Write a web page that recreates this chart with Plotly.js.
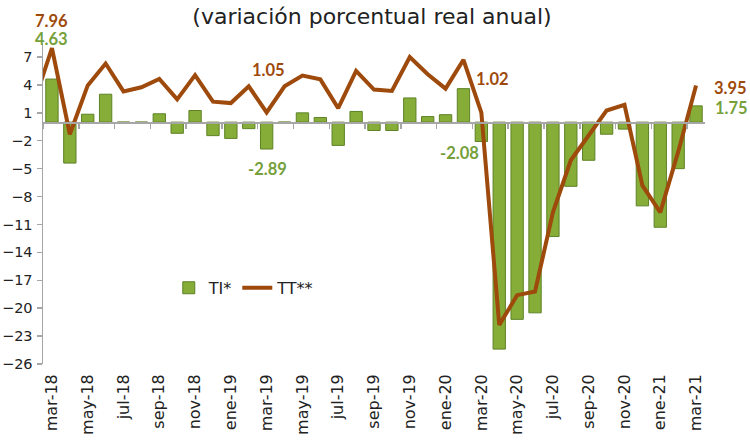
<!DOCTYPE html>
<html>
<head>
<meta charset="utf-8">
<script src="https://cdn.plot.ly/plotly-3.0.1.min.js"></script>
<style>html,body{margin:0;padding:0;background:#fff;}</style>
</head>
<body>
<div id="chart" style="width:750px;height:441px;"></div>
<script>
// Months (feb-18 only carries the TT** point that enters from the left edge)
var months = ["feb-18","mar-18","abr-18","may-18","jun-18","jul-18","ago-18","sep-18","oct-18","nov-18","dic-18",
  "ene-19","feb-19","mar-19","abr-19","may-19","jun-19","jul-19","ago-19","sep-19","oct-19","nov-19","dic-19",
  "ene-20","feb-20","mar-20","abr-20","may-20","jun-20","jul-20","ago-20","sep-20","oct-20","nov-20","dic-20",
  "ene-21","feb-21","mar-21"];
var TI = [null,4.63,-4.4,0.85,3.0,0,0,0.9,-1.2,1.25,-1.45,
  -1.75,-0.7,-2.89,0,1.0,0.5,-2.5,1.15,-0.9,-0.9,2.6,0.6,
  0.8,3.6,-2.08,-24.4,-21.2,-20.5,-12.3,-6.9,-4.1,-1.3,-0.75,-9.0,
  -11.3,-5.0,1.75];
var TT = [2.1,7.96,-1.3,3.95,6.3,3.3,3.75,4.65,2.45,5.05,2.2,
  2.05,3.85,1.05,3.85,5.0,4.6,1.5,5.5,3.5,3.35,7.0,5.15,
  3.6,6.7,1.02,-21.8,-18.6,-18.2,-9.7,-4.1,-1.5,1.25,1.85,-6.8,
  -9.7,-3.2,3.95];
var yTicks = [-26,-23,-20,-17,-14,-11,-8,-5,-2,1,4,7];
var seriesNames = ["TI*","TT**"];
var titleText = "(variación porcentual real anual)";

var idx = months.map(function(m,i){return i;});
var labelIdx = idx.filter(function(i){return i % 2 === 1;});
var boundaryTicks = idx.filter(function(i){return i % 2 === 0 && i < months.length-1;}).map(function(i){return i+0.5;});

var FONT = "'DejaVu Sans', sans-serif";
var LFONT = "Lato, 'DejaVu Sans', sans-serif";
var BROWN = "#9e4a0c", GREEN = "#76a03a";
var yMin = -26, yMax = 8.4;

var bars = {
  type: "bar", x: idx, y: TI, name: seriesNames[0],
  marker: {color: "#85ad38", line: {color: "#5f8227", width: 1}},
  xaxis: "x", yaxis: "y"
};
var line = {
  type: "scatter", mode: "lines", x: idx, y: TT, name: seriesNames[1],
  line: {color: BROWN, width: 4}, xaxis: "x2", yaxis: "y"
};

function ann(i, val, color, xs, ys){
  return {x: i, y: val, xref: "x", yref: "y", text: "<b>" + val.toFixed(2) + "</b>",
    showarrow: false, xshift: xs, yshift: ys, font: {family: LFONT, size: 16.5, color: color}};
}

var layout = {
  width: 750, height: 441,
  margin: {l: 43, r: 45, t: 44, b: 77},
  paper_bgcolor: "#fff", plot_bgcolor: "#fff",
  showlegend: true,
  title: {text: titleText, x: 0.497, xref: "paper", y: 0.962, yref: "container", yanchor: "middle",
          font: {family: FONT, size: 22, color: "#222"}},
  bargap: 0.31,
  font: {family: FONT, color: "#222"},
  xaxis: {range: [0.5, months.length - 0.5], tickvals: labelIdx, ticktext: labelIdx.map(function(i){return months[i];}),
          tickangle: -90, showline: false, showgrid: false, zeroline: false, ticks: "",
          tickfont: {family: FONT, size: 16, color: "#222"}, ticklabelstandoff: 6},
  xaxis2: {overlaying: "x", anchor: "free", position: (0 - yMin) / (yMax - yMin),
           range: [0.5, months.length - 0.5], tickvals: boundaryTicks, showticklabels: false,
           ticks: "outside", ticklen: 5, tickcolor: "#a6a6a6", tickwidth: 1.5,
           showline: true, linecolor: "#a6a6a6", linewidth: 1.5, showgrid: false, zeroline: false},
  yaxis: {range: [yMin, yMax], tickvals: yTicks, ticks: "outside", ticklen: 5, tickcolor: "#a6a6a6", tickwidth: 1.5,
          showline: true, linecolor: "#a6a6a6", linewidth: 1.5, showgrid: false, zeroline: false,
          ticklabelstandoff: 1, tickfont: {family: FONT, size: 14.5, color: "#222"}},
  legend: {orientation: "h", x: 0.19, y: 0.238, xanchor: "left", yanchor: "middle",
           font: {family: FONT, size: 16, color: "#222"}, bgcolor: "rgba(0,0,0,0)", itemwidth: 30, tracegroupgap: 0},
  annotations: [
    ann(1, TT[1], BROWN, 0, 27),
    ann(1, TI[1], GREEN, 0, 40),
    ann(13, TT[13], BROWN, 2, 42),
    ann(13, TI[13], GREEN, 1, -20),
    ann(25, TI[25], GREEN, -22, -12),
    ann(25, TT[25], BROWN, 11, 34),
    ann(37, TT[37], BROWN, 34, -3),
    ann(37, TI[37], GREEN, 35, -2)
  ]
};

Plotly.newPlot("chart", [bars, line], layout, {displayModeBar: false, staticPlot: true});
</script>
</body>
</html>
